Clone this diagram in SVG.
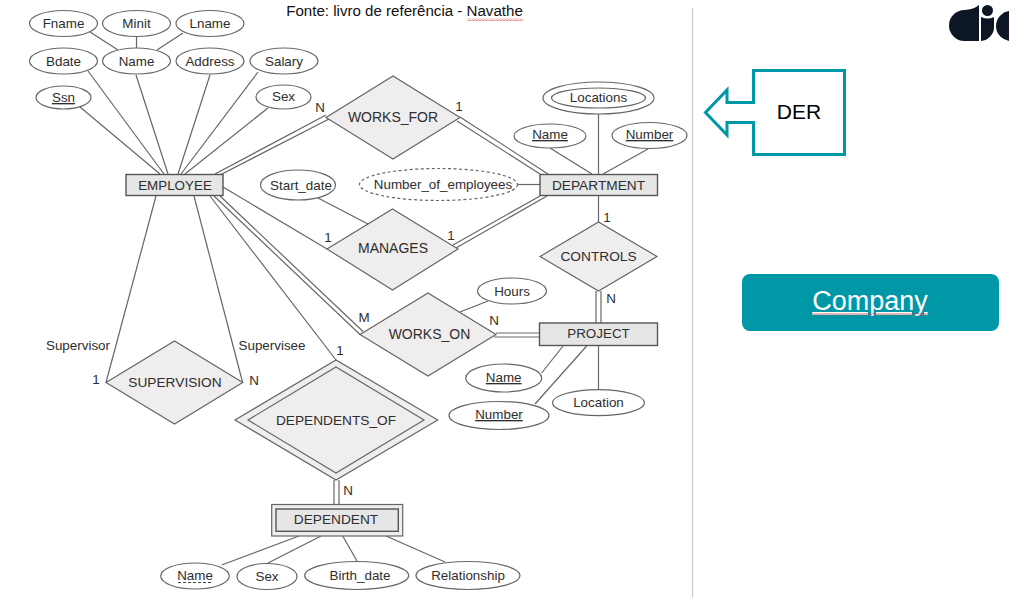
<svg xmlns="http://www.w3.org/2000/svg" width="1009" height="600" viewBox="0 0 1009 600">
<defs><pattern id="zig" width="3" height="2.400" patternUnits="userSpaceOnUse"><path d="M0 2L1.500 .4L3 2" fill="none" stroke="#d33" stroke-width=".7"/></pattern></defs>
<style>
text{font-family:"Liberation Sans",Arial,sans-serif;font-size:13.400px;fill:#2e2e2e;text-anchor:middle}
.a{fill:#fff;stroke:#666;stroke-width:1.2}
.d{fill:#efeded;stroke:#666;stroke-width:1.2}
.e{fill:#e6e6e6;stroke:#555;stroke-width:1.4}
.c line{stroke:#666;stroke-width:1.2}
.u{text-decoration:underline}
.s{font-size:14px}
.l{font-size:13.700px}
</style>
<rect width="1009" height="600" fill="#fff"/>
<g id="connectors" class="c">
<line x1="90" y1="32" x2="118" y2="50"/><line x1="136.500" y1="37" x2="136.500" y2="48"/><line x1="183" y1="33" x2="157" y2="50"/>
<line x1="88" y1="71" x2="164" y2="174"/><line x1="136" y1="75" x2="168" y2="174"/><line x1="210" y1="75" x2="178" y2="174"/><line x1="258" y1="72" x2="181" y2="174"/><line x1="268" y1="108" x2="185" y2="174"/><line x1="80" y1="107" x2="160" y2="174"/>
<line x1="215" y1="174" x2="326" y2="115"/><line x1="220" y1="175" x2="329" y2="119"/>
<line x1="460" y1="117" x2="548" y2="174"/><line x1="457" y1="121" x2="540" y2="174"/>
<line x1="223" y1="187" x2="327" y2="249"/><line x1="318" y1="198" x2="368" y2="224"/>
<line x1="456" y1="248" x2="547" y2="196"/><line x1="453" y1="245" x2="540" y2="196"/>
<line x1="518" y1="184.500" x2="540" y2="184.500"/><line x1="598.500" y1="114" x2="598.500" y2="174"/><line x1="550" y1="148" x2="592" y2="174"/><line x1="648" y1="149" x2="603" y2="174"/>
<line x1="598.500" y1="196" x2="598.500" y2="222"/><line x1="596" y1="291" x2="596" y2="323"/><line x1="601" y1="291" x2="601" y2="323"/>
<line x1="488" y1="301" x2="460" y2="312"/><line x1="496" y1="333" x2="540" y2="333"/><line x1="494" y1="337" x2="540" y2="337"/>
<line x1="214" y1="196" x2="360" y2="334.500"/><line x1="220" y1="196" x2="363" y2="331.500"/><line x1="210" y1="196" x2="336" y2="360"/>
<line x1="156" y1="196" x2="106" y2="382.500"/><line x1="194" y1="196" x2="242.500" y2="382"/>
<line x1="334" y1="480" x2="334" y2="505"/><line x1="339" y1="480" x2="339" y2="505"/>
<line x1="299" y1="536" x2="221.700" y2="565"/><line x1="321" y1="536" x2="268" y2="563"/><line x1="342.700" y1="536" x2="357" y2="561"/><line x1="386" y1="536" x2="445" y2="562"/>
<line x1="563" y1="346" x2="541.700" y2="373"/><line x1="586.700" y1="346" x2="535" y2="404"/><line x1="598.500" y1="345" x2="598.500" y2="390"/>
</g>
<g id="fname"><ellipse class="a" cx="63.500" cy="23.500" rx="34" ry="13"/><text x="63.500" y="28">Fname</text></g>
<g id="minit"><ellipse class="a" cx="136.500" cy="23.500" rx="34" ry="13"/><text x="136.500" y="28">Minit</text></g>
<g id="lname"><ellipse class="a" cx="210" cy="23.500" rx="34" ry="13"/><text x="210" y="28">Lname</text></g>
<g id="bdate"><ellipse class="a" cx="63.500" cy="61" rx="34" ry="13"/><text x="63.500" y="66">Bdate</text></g>
<g id="name"><ellipse class="a" cx="136.500" cy="61" rx="34" ry="13"/><text x="136.500" y="66">Name</text></g>
<g id="address"><ellipse class="a" cx="210" cy="61" rx="34" ry="13"/><text x="210" y="66">Address</text></g>
<g id="salary"><ellipse class="a" cx="284" cy="61" rx="34" ry="13"/><text x="284" y="66">Salary</text></g>
<g id="ssn"><ellipse class="a" cx="63.500" cy="97.500" rx="27.500" ry="11.500"/><text class="u" x="63.500" y="102">Ssn</text></g>
<g id="sex"><ellipse class="a" cx="283.500" cy="97" rx="27.500" ry="12"/><text x="283.500" y="101">Sex</text></g>
<g id="employee"><rect class="e" x="126" y="174.500" width="97" height="21"/><text x="175" y="190">EMPLOYEE</text></g>
<g id="start_date"><ellipse class="a" cx="298" cy="185" rx="37.500" ry="15"/><text x="301" y="190">Start_date</text></g>
<g id="works_for"><polygon class="d" points="326,117.500 393,76 460,117.500 393,159"/><text class="s" x="393" y="122">WORKS_FOR</text></g>
<g id="manages"><polygon class="d" points="327,249 392.500,209 458,249 392.500,290"/><text class="s" x="393" y="253">MANAGES</text></g>
<g id="department"><rect class="e" x="540" y="174.500" width="117.500" height="21"/><text class="l" x="598.500" y="190">DEPARTMENT</text></g>
<g id="number_of_employees"><ellipse class="a" cx="438.500" cy="184.500" rx="79" ry="16" stroke-dasharray="3 2.500"/><text x="443" y="189">Number_of_employees</text></g>
<g id="locations"><ellipse class="a" cx="598.500" cy="98" rx="55.500" ry="16"/><ellipse class="a" cx="598.500" cy="98" rx="47" ry="10"/><text x="598.500" y="102">Locations</text></g>
<g id="dept_name"><ellipse class="a" cx="550" cy="136" rx="36" ry="12"/><text class="u" x="550" y="139">Name</text></g>
<g id="dept_number"><ellipse class="a" cx="649.500" cy="135.500" rx="37.500" ry="13"/><text class="u" x="649.500" y="139">Number</text></g>
<g id="controls"><polygon class="d" points="540,256.500 598.500,222 657,256.500 598.500,291"/><text class="l" x="598.500" y="261">CONTROLS</text></g>
<g id="works_on"><polygon class="d" points="360,334.500 428,293 496,334.500 428,376"/><text class="s" x="429.500" y="339">WORKS_ON</text></g>
<g id="project"><rect class="e" x="539.500" y="323" width="118" height="22.500"/><text x="598.500" y="338">PROJECT</text></g>
<g id="hours"><ellipse class="a" cx="512" cy="291" rx="34.500" ry="13"/><text x="512" y="296">Hours</text></g>
<g id="proj_name"><ellipse class="a" cx="503.700" cy="378" rx="38" ry="14"/><text class="u" x="503.700" y="382">Name</text></g>
<g id="proj_number"><ellipse class="a" cx="499" cy="415.500" rx="50" ry="14"/><text class="u" x="499" y="419">Number</text></g>
<g id="location"><ellipse class="a" cx="598.500" cy="402.700" rx="46" ry="13"/><text x="598.500" y="407">Location</text></g>
<g id="supervision"><polygon class="d" points="106,382.500 174.500,341 242.700,382.500 174.500,424"/><text class="l" x="175" y="387">SUPERVISION</text></g>
<g id="dependents_of"><polygon class="d" points="235,420 336,360 437.700,420 336,480"/><polygon class="d" points="248,420 336,367 424,420 336,473"/><text class="l" x="336" y="425">DEPENDENTS_OF</text></g>
<g id="dependent"><rect class="d" x="271.700" y="504.500" width="131" height="31.500"/><rect class="e" x="276" y="509" width="122.300" height="22.300"/><text class="l" x="336" y="524">DEPENDENT</text></g>
<g id="dep_name"><ellipse class="a" cx="195" cy="576" rx="34.300" ry="13"/><text x="195" y="580">Name</text><line x1="178" y1="582.500" x2="212" y2="582.500" stroke="#444" stroke-dasharray="3 2"/></g>
<g id="dep_sex"><ellipse class="a" cx="267" cy="576.500" rx="30" ry="13"/><text x="267" y="581">Sex</text></g>
<g id="birth_date"><ellipse class="a" cx="356.700" cy="575.500" rx="52" ry="14"/><text x="360" y="580">Birth_date</text></g>
<g id="relationship"><ellipse class="a" cx="468" cy="575.500" rx="52" ry="14"/><text x="468" y="580">Relationship</text></g>
<g id="labels">
<text x="320" y="112">N</text><text x="459" y="111">1</text><text x="328" y="242">1</text><text x="451" y="240">1</text><text x="607" y="222">1</text>
<text x="611" y="303">N</text><text x="364" y="322">M</text><text x="494" y="325">N</text><text x="340" y="355">1</text><text x="348" y="495">N</text>
<text x="96" y="384">1</text><text x="254" y="385">N</text>
<text x="78" y="350">Supervisor</text><text x="272" y="350">Supervisee</text>
</g>
<g id="source"><text x="404.500" y="16" style="font-size:15.100px;fill:#111">Fonte: livro de referência - Navathe</text><rect x="467" y="18.500" width="56" height="2.400" fill="url(#zig)"/></g>
<line id="divider" x1="692.500" y1="8" x2="692.500" y2="597" stroke="#ccc" stroke-width="1.200"/>
<g id="der"><path d="M753.500 70.500H844.500V154.500H753.500V122.500H727V135L705.500 112.500L727 90V102.500H753.500Z" fill="#fff" stroke="#0097a7" stroke-width="3"/><text x="799" y="119" style="font-size:21px;fill:#000">DER</text></g>
<g id="company"><rect x="742" y="274" width="257" height="57" rx="8" fill="#0097a7"/><text class="u" x="870" y="310" style="font-size:27px;fill:#fff">Company</text><rect x="811" y="313" width="117" height="2.400" fill="url(#zig)"/></g>
<g id="logo" fill="#0d1624"><path d="M979 5V41H964.500A15.500 15.500 0 0 1 964.500 10Q974 9.500 979 5Z"/><circle cx="987.500" cy="10.500" r="5.500"/><path d="M981 17Q988 20 994 17V27A14 14 0 0 1 981 41Z"/><circle cx="1011" cy="26" r="15"/></g>
</svg>
